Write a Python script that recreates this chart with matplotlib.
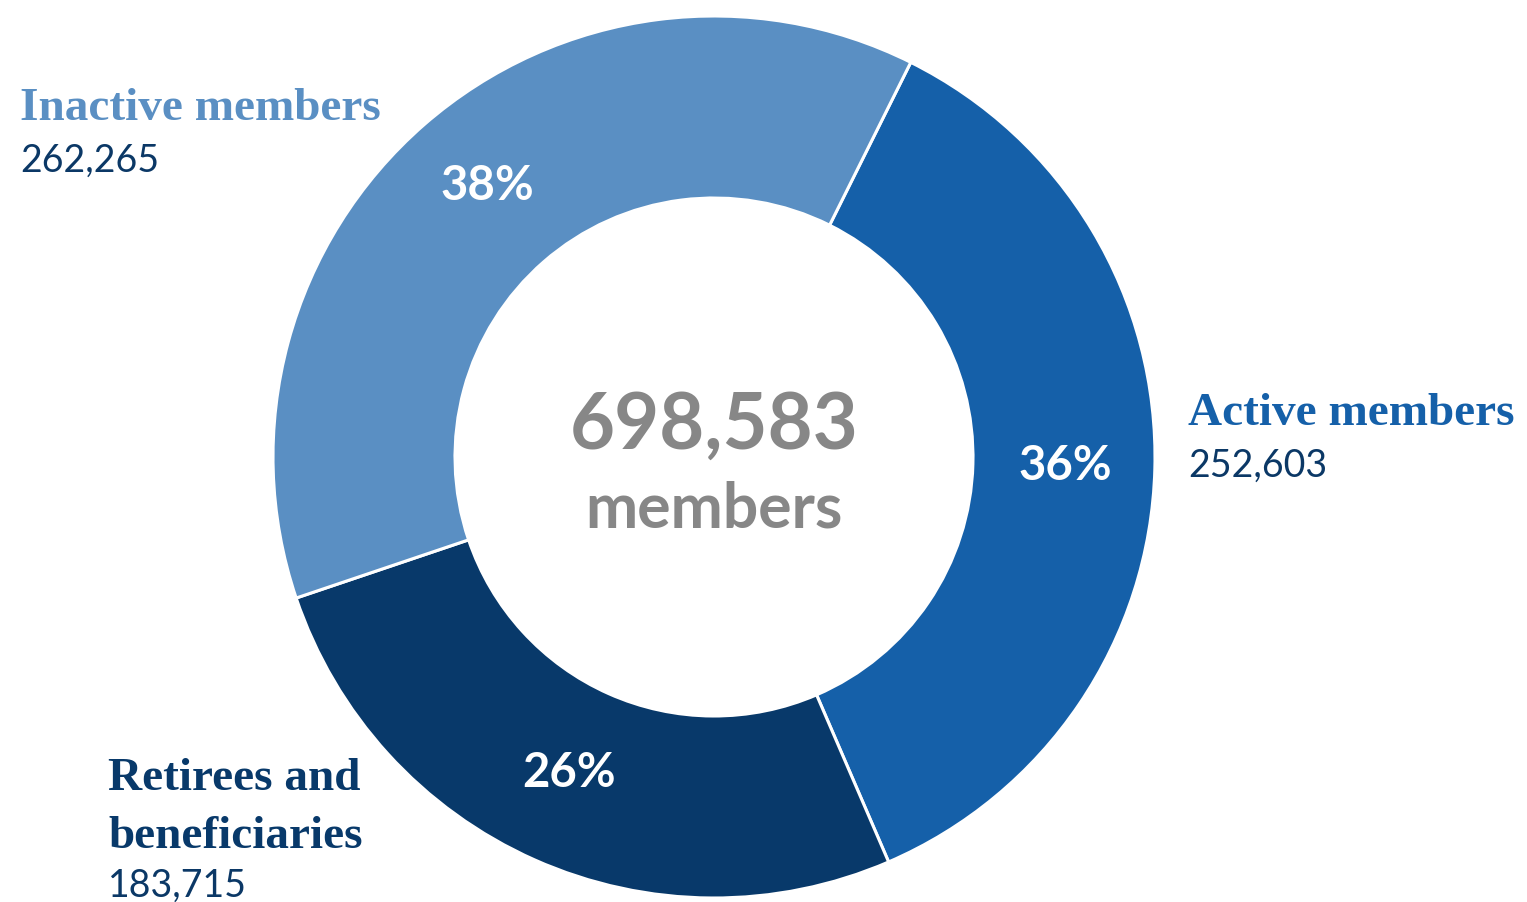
import matplotlib.pyplot as plt

groups = ["Active members", "Retirees and\nbeneficiaries", "Inactive members"]
counts = [252603, 183715, 262265]
colors = ["#1560A9", "#08396A", "#5A8FC3"]
total = sum(counts)

W, H = 1527, 903
fig = plt.figure(figsize=(W / 100, H / 100), dpi=100)
ax = fig.add_axes([0, 0, 1, 1])

cx, cy, r_out, r_in = 714, H - 458, 441, 259
ax.pie(counts, colors=colors, startangle=63.5, counterclock=False,
       center=(cx, cy), radius=r_out, frame=True,
       wedgeprops=dict(width=r_out - r_in, edgecolor="white", linewidth=2.2))
ax.set_xlim(0, W)
ax.set_ylim(0, H)
ax.set_aspect("equal")
ax.axis("off")

# percentage inside each slice
pct_pos = [(1065, 466), (569, 773), (487, 186)]
for n, (px, py) in zip(counts, pct_pos):
    ax.text(px, H - py, f"{round(100 * n / total)}%", color="white", fontsize=34,
            fontweight="bold", family="Lato", ha="center", va="center")

# category names and counts beside the ring
serif = "Liberation Serif"
label_pos = [(1188, [425], 477), (108, [790, 848], 897), (20, [120], 172)]
for name, n, c, (lx, lys, ny) in zip(groups, counts, colors, label_pos):
    for line, ly in zip(name.split("\n"), lys):
        ax.text(lx, H - ly, line, color=c, fontsize=34, fontweight="bold",
                family=serif, va="baseline")
    ax.text(lx, H - ny, f"{n:,}", color="#0B3866", fontsize=27, family="Lato",
            va="baseline")

# total in the hole
ax.text(cx, H - 427, f"{total:,}", color="#878787", fontsize=56, fontweight="bold",
        family="Lato", ha="center", va="center")
ax.text(cx, H - 510, "members", color="#878787", fontsize=45, fontweight="bold",
        family="Lato", ha="center", va="center")

fig.savefig("out.png", dpi=100)
